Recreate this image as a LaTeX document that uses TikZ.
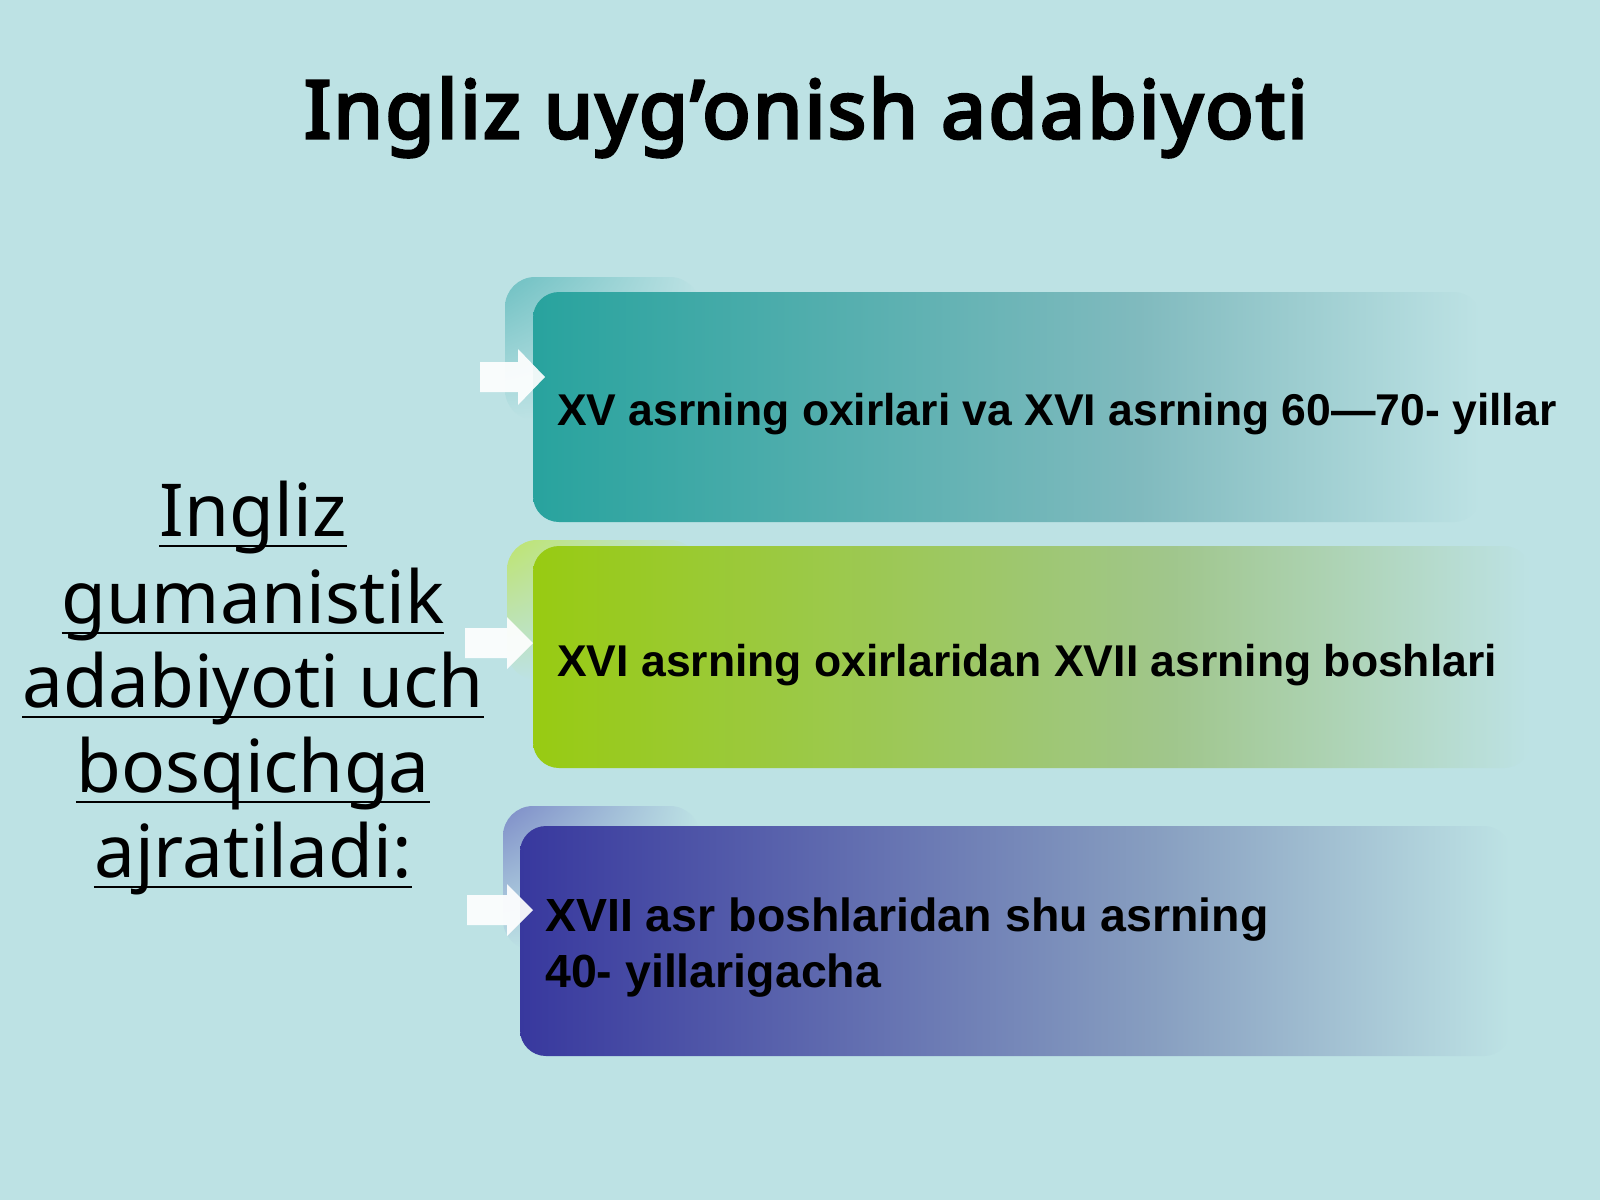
\documentclass[tikz,border=0pt]{standalone}
\usepackage{fontspec}
\usetikzlibrary{shadings}
\setmainfont{Noto Sans}
\newfontfamily\titlefont{Noto Sans}[FakeBold=4,LetterSpace=3]
\newfontfamily\arialfont{Liberation Sans}
\definecolor{bgc}{RGB}{189,226,228}
\definecolor{tealA}{RGB}{40,163,158}
\definecolor{tealM}{RGB}{128,186,190}
\definecolor{tealB}{RGB}{110,192,194}
\definecolor{limeA}{RGB}{152,203,18}
\definecolor{limeM}{RGB}{160,198,140}
\definecolor{limeB}{RGB}{190,228,110}
\definecolor{indA}{RGB}{56,56,158}
\definecolor{indM}{RGB}{135,158,192}
\definecolor{indB}{RGB}{125,140,200}
\pgfdeclarehorizontalshading{tealfade}{100bp}{color(0bp)=(tealA); color(25bp)=(tealA); color(57bp)=(tealM); color(75bp)=(bgc); color(100bp)=(bgc)}
\pgfdeclarehorizontalshading{limefade}{100bp}{color(0bp)=(limeA); color(25bp)=(limeA); color(57bp)=(limeM); color(75bp)=(bgc); color(100bp)=(bgc)}
\pgfdeclarehorizontalshading{indfade}{100bp}{color(0bp)=(indA); color(25bp)=(indA); color(57bp)=(indM); color(75bp)=(bgc); color(100bp)=(bgc)}
\tikzset{
  titletext/.style={inner sep=0pt, anchor=base, font=\titlefont\fontsize{80}{96}\selectfont},
  lefttext/.style={inner sep=0pt, anchor=base, font=\fontsize{73}{85}\selectfont},
  boxtext/.style={inner sep=0pt, anchor=base west, align=left, font=\arialfont\bfseries\fontsize{44.5}{56}\selectfont},
  boxtextb/.style={boxtext, font=\arialfont\bfseries\fontsize{46.5}{56}\selectfont},
  stagebox/.style={rounded corners=26pt},
  backtab/.style={rounded corners=30pt},
  whitearrow/.style={fill=white, opacity=0.92},
  uline/.style={line width=2.6pt, black}
}
\begin{document}
\begin{tikzpicture}[x=1pt,y=-1pt]
\useasboundingbox (0,0) rectangle (1600,1200);
\fill[bgc] (0,0) rectangle (1600,1200);

% title
\node[titletext] (title) at (806,138) {Ingliz uyg’onish adabiyoti};

% left text
\node[lefttext] (l1) at (253,536) {Ingliz};
\node[lefttext] (l2) at (253,623) {gumanistik};
\node[lefttext] (l3) at (253,707) {adabiyoti uch};
\node[lefttext] (l4) at (253,792) {bosqichga};
\node[lefttext] (l5) at (253,877) {ajratiladi:};
\foreach \n in {l1,l2,l3,l4,l5}
  \draw[uline] ([yshift=-10pt]\n.base west) -- ([yshift=-10pt]\n.base east);

% back tabs
\shade[backtab, upper left=tealB, upper right=bgc, lower left=bgc, lower right=bgc] (505,277) rectangle (700,420);
\shade[backtab, upper left=limeB, upper right=bgc, lower left=bgc, lower right=bgc] (507,540) rectangle (700,680);
\shade[backtab, upper left=indB, upper right=bgc, lower left=bgc, lower right=bgc] (503,806) rectangle (700,950);

% boxes
\shade[stagebox, shading=tealfade] (533,292) rectangle (1480,522);
\shade[stagebox, shading=limefade] (533,546) rectangle (1530,768);
\shade[stagebox, shading=indfade] (520,826) rectangle (1510,1056);

% arrows
\fill[whitearrow] (480,362) -- (518,362) -- (518,349) -- (545,377) -- (518,405) -- (518,392) -- (480,392) -- cycle;
\fill[whitearrow] (465,628) -- (507,628) -- (507,617) -- (533,643) -- (507,669) -- (507,658) -- (465,658) -- cycle;
\fill[whitearrow] (467,895) -- (507,895) -- (507,884) -- (533,910) -- (507,936) -- (507,925) -- (467,925) -- cycle;

% box texts
\node[boxtext] (t1) at (557,425) {XV asrning oxirlari va XVI asrning 60—70- yillar};
\node[boxtext] (t2) at (557,676) {XVI asrning oxirlaridan XVII asrning boshlari};
\node[boxtextb] (t3) at (545,987) {XVII asr boshlaridan shu asrning\\40- yillarigacha};
\end{tikzpicture}
\end{document}
